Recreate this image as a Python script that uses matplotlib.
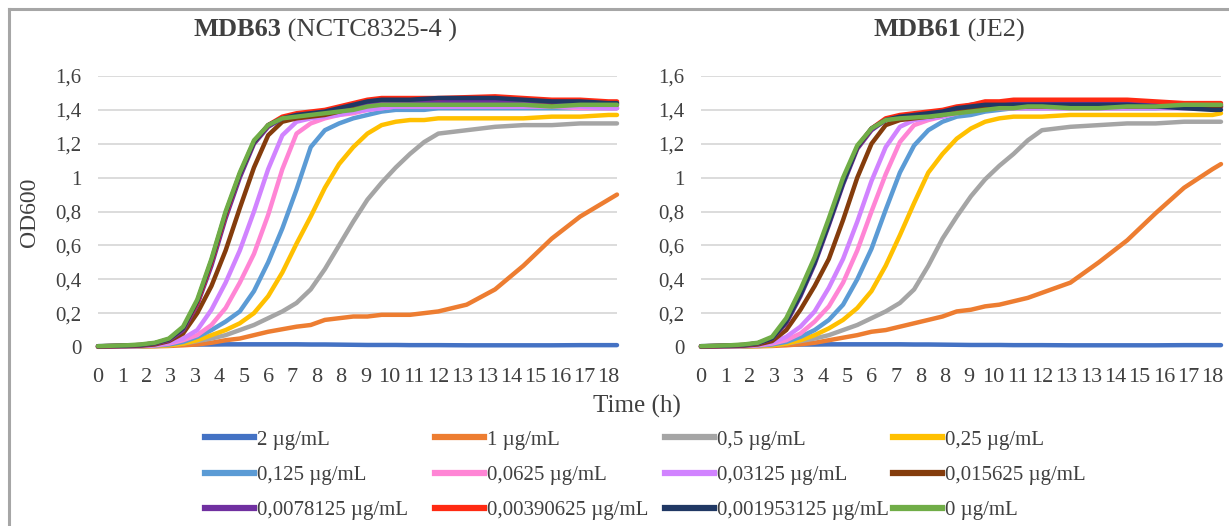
import numpy as np
import matplotlib
matplotlib.use('Agg')
import matplotlib.pyplot as plt
from matplotlib.lines import Line2D

plt.rcParams['font.family'] = ['Liberation Serif', 'DejaVu Serif']

# sampling times (h)
tempo = [0, 1, 1.5, 2, 2.5, 3, 3.5, 4, 4.5, 5, 5.5, 6, 6.5, 7, 7.5, 8, 8.5, 9, 9.5,
         10, 10.5, 11, 11.5, 12, 13, 14, 15, 16, 17, 18, 18.3]

rotulos_x = ['0', '1', '2', '3', '3', '4', '5', '6', '7', '8', '8', '9', '10', '11',
             '12', '13', '13', '14', '15', '16', '17', '18']
rotulos_y = ['0', '0,2', '0,4', '0,6', '0,8', '1', '1,2', '1,4', '1,6']

concentracoes = ['2 µg/mL', '1 µg/mL', '0,5 µg/mL', '0,25 µg/mL',
                 '0,125 µg/mL', '0,0625 µg/mL', '0,03125 µg/mL', '0,015625 µg/mL',
                 '0,0078125 µg/mL', '0,00390625 µg/mL', '0,001953125 µg/mL', '0 µg/mL']
cores = ['#4472c4', '#ed7d31', '#a5a5a5', '#ffc000',
         '#5b9bd5', '#ff85d5', '#d183ff', '#843c0c',
         '#7030a0', '#ff2a12', '#203864', '#70ad47']

# ---- MDB63 (NCTC8325-4)
mdb63_2 = [0.005, 0.008, 0.01, 0.012, 0.013, 0.014, 0.015, 0.015, 0.016, 0.016, 0.016, 0.016, 0.016,
           0.016, 0.015, 0.015, 0.014, 0.013, 0.012, 0.012, 0.012, 0.011, 0.011, 0.011, 0.01, 0.01,
           0.01, 0.01, 0.011, 0.011, 0.011]
mdb63_1 = [0.001, 0.002, 0.003, 0.004, 0.006, 0.01, 0.015, 0.025, 0.04, 0.05, 0.07, 0.09, 0.105,
           0.12, 0.13, 0.16, 0.17, 0.18, 0.18, 0.19, 0.19, 0.19, 0.2, 0.21, 0.25, 0.34, 0.48, 0.64,
           0.77, 0.87, 0.9]
mdb63_05 = [0.002, 0.003, 0.004, 0.006, 0.01, 0.02, 0.035, 0.05, 0.07, 0.1, 0.13, 0.17, 0.21,
            0.26, 0.34, 0.46, 0.6, 0.74, 0.87, 0.97, 1.06, 1.14, 1.21, 1.26, 1.28, 1.3, 1.31, 1.31,
            1.32, 1.32, 1.32]
mdb63_025 = [0.002, 0.003, 0.004, 0.006, 0.01, 0.02, 0.04, 0.07, 0.1, 0.14, 0.2, 0.3, 0.44,
             0.61, 0.77, 0.94, 1.08, 1.18, 1.26, 1.31, 1.33, 1.34, 1.34, 1.35, 1.35, 1.35, 1.35,
             1.36, 1.36, 1.37, 1.37]
mdb63_0125 = [0.002, 0.003, 0.005, 0.008, 0.015, 0.03, 0.06, 0.1, 0.15, 0.21, 0.33, 0.5, 0.7,
              0.93, 1.18, 1.28, 1.32, 1.35, 1.37, 1.39, 1.4, 1.4, 1.4, 1.41, 1.41, 1.41, 1.41,
              1.41, 1.41, 1.41, 1.41]
mdb63_00625 = [0.003, 0.004, 0.006, 0.01, 0.02, 0.04, 0.07, 0.13, 0.23, 0.38, 0.55, 0.78, 1.05,
               1.26, 1.32, 1.35, 1.37, 1.38, 1.4, 1.41, 1.42, 1.42, 1.42, 1.42, 1.42, 1.42, 1.42,
               1.42, 1.41, 1.41, 1.41]
mdb63_003125 = [0.003, 0.005, 0.007, 0.012, 0.025, 0.05, 0.1, 0.22, 0.38, 0.57, 0.8, 1.05, 1.25,
                1.33, 1.35, 1.36, 1.37, 1.39, 1.4, 1.41, 1.42, 1.42, 1.42, 1.42, 1.42, 1.42, 1.42,
                1.42, 1.42, 1.41, 1.41]
mdb63_0015625 = [0.003, 0.005, 0.008, 0.015, 0.035, 0.08, 0.2, 0.36, 0.57, 0.82, 1.06, 1.25, 1.33,
                 1.35, 1.36, 1.37, 1.39, 1.41, 1.43, 1.44, 1.44, 1.44, 1.44, 1.44, 1.44, 1.44, 1.44,
                 1.44, 1.43, 1.43, 1.43]
mdb63_00078 = [0.004, 0.007, 0.01, 0.02, 0.04, 0.1, 0.25, 0.48, 0.76, 1.0, 1.2, 1.3, 1.35,
               1.37, 1.38, 1.39, 1.41, 1.43, 1.44, 1.45, 1.45, 1.45, 1.45, 1.45, 1.45, 1.45, 1.45,
               1.45, 1.44, 1.44, 1.44]
mdb63_00039 = [0.004, 0.008, 0.012, 0.022, 0.045, 0.11, 0.26, 0.5, 0.78, 1.02, 1.21, 1.31, 1.36,
               1.38, 1.39, 1.4, 1.42, 1.44, 1.46, 1.47, 1.47, 1.47, 1.47, 1.47, 1.475, 1.48, 1.47,
               1.46, 1.46, 1.45, 1.45]
mdb63_00019 = [0.004, 0.008, 0.012, 0.022, 0.045, 0.11, 0.27, 0.51, 0.79, 1.02, 1.21, 1.31, 1.35,
               1.37, 1.38, 1.39, 1.41, 1.43, 1.45, 1.46, 1.46, 1.46, 1.465, 1.47, 1.47, 1.47, 1.46,
               1.45, 1.45, 1.44, 1.44]
mdb63_0 = [0.005, 0.01, 0.015, 0.025, 0.05, 0.12, 0.28, 0.52, 0.8, 1.03, 1.22, 1.31, 1.35,
           1.36, 1.37, 1.38, 1.39, 1.4, 1.42, 1.43, 1.43, 1.43, 1.43, 1.43, 1.43, 1.43, 1.43,
           1.42, 1.43, 1.43, 1.43]

# ---- MDB61 (JE2)
mdb61_2 = [0.005, 0.008, 0.01, 0.012, 0.013, 0.014, 0.015, 0.015, 0.016, 0.016, 0.016, 0.016, 0.016,
           0.016, 0.015, 0.015, 0.014, 0.013, 0.012, 0.012, 0.012, 0.011, 0.011, 0.011, 0.01, 0.01,
           0.01, 0.01, 0.011, 0.011, 0.011]
mdb61_1 = [0.001, 0.002, 0.003, 0.004, 0.006, 0.01, 0.016, 0.025, 0.04, 0.055, 0.07, 0.09, 0.1,
           0.12, 0.14, 0.16, 0.18, 0.21, 0.22, 0.24, 0.25, 0.27, 0.29, 0.32, 0.38, 0.5, 0.63, 0.79,
           0.94, 1.05, 1.08]
mdb61_05 = [0.002, 0.003, 0.004, 0.006, 0.01, 0.02, 0.035, 0.05, 0.07, 0.1, 0.13, 0.17, 0.21,
            0.26, 0.34, 0.48, 0.64, 0.77, 0.89, 0.99, 1.07, 1.14, 1.22, 1.28, 1.3, 1.31, 1.32, 1.32,
            1.33, 1.33, 1.33]
mdb61_025 = [0.002, 0.003, 0.004, 0.006, 0.01, 0.02, 0.04, 0.07, 0.11, 0.16, 0.23, 0.33, 0.48,
             0.66, 0.85, 1.03, 1.14, 1.23, 1.29, 1.33, 1.35, 1.36, 1.36, 1.36, 1.37, 1.37, 1.37,
             1.37, 1.37, 1.37, 1.38]
mdb61_0125 = [0.002, 0.003, 0.005, 0.008, 0.015, 0.03, 0.06, 0.1, 0.16, 0.25, 0.4, 0.58, 0.81,
              1.03, 1.19, 1.28, 1.33, 1.36, 1.37, 1.39, 1.4, 1.41, 1.41, 1.41, 1.41, 1.41, 1.41,
              1.41, 1.42, 1.42, 1.42]
mdb61_00625 = [0.003, 0.004, 0.006, 0.01, 0.02, 0.04, 0.08, 0.15, 0.24, 0.38, 0.57, 0.8, 1.02,
               1.21, 1.31, 1.34, 1.36, 1.38, 1.4, 1.41, 1.41, 1.41, 1.41, 1.41, 1.41, 1.41, 1.41,
               1.42, 1.42, 1.42, 1.42]
mdb61_003125 = [0.003, 0.005, 0.007, 0.012, 0.025, 0.06, 0.12, 0.21, 0.35, 0.52, 0.74, 0.98, 1.18,
                1.3, 1.34, 1.35, 1.36, 1.38, 1.4, 1.41, 1.41, 1.41, 1.41, 1.41, 1.41, 1.41, 1.41,
                1.41, 1.41, 1.41, 1.41]
mdb61_0015625 = [0.003, 0.005, 0.008, 0.015, 0.035, 0.1, 0.22, 0.36, 0.52, 0.75, 1.0, 1.2, 1.31,
                 1.34, 1.35, 1.36, 1.37, 1.39, 1.41, 1.42, 1.42, 1.42, 1.42, 1.42, 1.42, 1.42, 1.42,
                 1.42, 1.42, 1.42, 1.42]
mdb61_00078 = [0.004, 0.007, 0.01, 0.02, 0.05, 0.14, 0.3, 0.49, 0.72, 0.96, 1.17, 1.28, 1.34,
               1.36, 1.37, 1.38, 1.39, 1.41, 1.43, 1.44, 1.44, 1.44, 1.44, 1.44, 1.44, 1.44, 1.44,
               1.44, 1.43, 1.43, 1.43]
mdb61_00039 = [0.004, 0.008, 0.012, 0.022, 0.05, 0.15, 0.32, 0.51, 0.74, 0.98, 1.18, 1.29, 1.35,
               1.37, 1.38, 1.39, 1.4, 1.42, 1.43, 1.45, 1.45, 1.46, 1.46, 1.46, 1.46, 1.46, 1.46,
               1.45, 1.44, 1.44, 1.44]
mdb61_00019 = [0.004, 0.008, 0.012, 0.022, 0.05, 0.15, 0.31, 0.5, 0.73, 0.97, 1.18, 1.29, 1.34,
               1.36, 1.37, 1.38, 1.39, 1.41, 1.42, 1.43, 1.43, 1.43, 1.43, 1.43, 1.43, 1.43, 1.43,
               1.42, 1.41, 1.4, 1.4]
mdb61_0 = [0.005, 0.01, 0.015, 0.025, 0.06, 0.17, 0.34, 0.53, 0.76, 1.0, 1.19, 1.29, 1.34,
           1.35, 1.355, 1.36, 1.37, 1.38, 1.39, 1.4, 1.41, 1.41, 1.42, 1.42, 1.41, 1.41, 1.42,
           1.42, 1.43, 1.43, 1.43]

series_63 = [mdb63_2, mdb63_1, mdb63_05, mdb63_025, mdb63_0125, mdb63_00625, mdb63_003125,
             mdb63_0015625, mdb63_00078, mdb63_00039, mdb63_00019, mdb63_0]
series_61 = [mdb61_2, mdb61_1, mdb61_05, mdb61_025, mdb61_0125, mdb61_00625, mdb61_003125,
             mdb61_0015625, mdb61_00078, mdb61_00039, mdb61_00019, mdb61_0]

W, H = 1229, 526
fig = plt.figure(figsize=(W / 100, H / 100), dpi=100)

ax1 = fig.add_axes([98 / W, 1 - 347 / H, 519 / W, 271 / H])
ax2 = fig.add_axes([701 / W, 1 - 347 / H, 520 / W, 271 / H])

pos_x = np.arange(len(rotulos_x)) * 18 / 21

for ax, series in [(ax1, series_63), (ax2, series_61)]:
    for valores, cor, nome in zip(series, cores, concentracoes):
        ax.plot(tempo, valores, color=cor, lw=3.2, label=nome, clip_on=False,
                solid_capstyle='round', solid_joinstyle='round')
    ax.set_xlim(0, 18.3)
    ax.set_ylim(0, 1.6)
    ax.set_yticks(np.arange(0, 1.61, 0.2))
    ax.set_yticklabels(rotulos_y, fontsize=15, color='#404040')
    ax.set_xticks(pos_x)
    ax.set_xticklabels(rotulos_x, fontsize=16, color='#404040')
    ax.tick_params(length=0)
    ax.tick_params(axis='x', pad=15)
    ax.tick_params(axis='y', pad=12)
    ax.grid(axis='y', color='#d9d9d9', lw=1.3)
    ax.set_axisbelow(True)
    for s in ax.spines.values():
        s.set_visible(False)

# titles (bold name + normal strain)
fig.text(281 / W, 1 - 30 / H, 'MDB63', fontsize=19, fontweight='bold', color='#404040',
         ha='right', va='center')
fig.text(281 / W, 1 - 30 / H, ' (NCTC8325-4 )', fontsize=19, color='#404040',
         ha='left', va='center')
fig.text(961 / W, 1 - 30 / H, 'MDB61', fontsize=19, fontweight='bold', color='#404040',
         ha='right', va='center')
fig.text(961 / W, 1 - 30 / H, ' (JE2)', fontsize=19, color='#404040',
         ha='left', va='center')

fig.text(30 / W, 1 - 212 / H, 'OD600', fontsize=17, color='#404040', rotation=90,
         ha='center', va='center')
fig.text(637 / W, 1 - 406 / H, 'Time (h)', fontsize=18, color='#404040',
         ha='center', va='center')

# legend: one legend per column so columns are evenly spaced
handles = [Line2D([], [], color=c, lw=4.5) for c in cores]
col_x = [205, 435, 665, 893]
for j in range(4):
    idx = [j, j + 4, j + 8]
    leg = fig.legend([handles[i] for i in idx], [concentracoes[i] for i in idx],
                     loc='upper left', bbox_to_anchor=(col_x[j] / W, 1 - 430 / H),
                     frameon=False, fontsize=15, handlelength=2.35, handletextpad=0.15,
                     borderpad=0, borderaxespad=0, labelspacing=0.76)
    for t in leg.get_texts():
        t.set_color('#404040')

# chart area border (top and left visible)
fig.add_artist(Line2D([8.5 / W, 1], [1 - 8.5 / H, 1 - 8.5 / H], color='#a6a6a6', lw=2.2,
                      transform=fig.transFigure))
fig.add_artist(Line2D([8.5 / W, 8.5 / W], [0, 1 - 8.5 / H], color='#a6a6a6', lw=2.2,
                      transform=fig.transFigure))

plt.savefig('out.png', dpi=100)
